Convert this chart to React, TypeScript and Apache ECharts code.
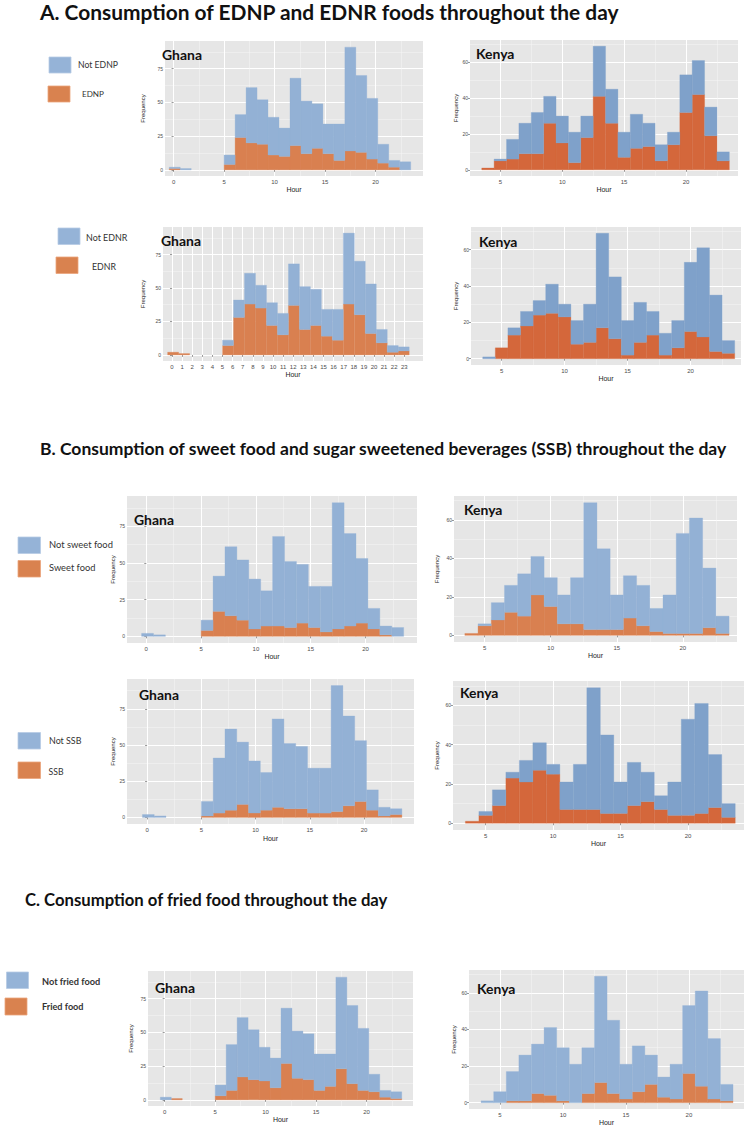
import React, { useEffect, useRef } from "react";
import * as echarts from "echarts";

// ---------- DATA ----------
// Ghana histogram bins (22 bins, ggplot binning)
const ghanaBinStart = -0.43;
const ghanaBinWidth = 1.087;
const ghanaBinIndex = [0, 1, 2, 3, 4, 5, 6, 7, 8, 9, 10, 11, 12, 13, 14, 15, 16, 17, 18, 19, 20, 21];
const ghanaTotal = [2, 1, 0, 0, 0, 11, 41, 61, 52, 39, 31, 68, 51, 49, 34, 34, 91, 70, 53, 19, 7, 6];
const ghanaEDNP = [1, 0, 0, 0, 0, 4, 24, 20, 19, 11, 10, 18, 12, 16, 12, 7, 14, 13, 8, 5, 2, 0];
const ghanaEDNR = [2, 1, 0, 0, 0, 7, 28, 38, 35, 22, 15, 37, 19, 22, 14, 11, 38, 30, 16, 9, 2, 3];
const ghanaSweet = [0, 0, 0, 0, 0, 4, 17, 14, 11, 5, 7, 7, 6, 9, 6, 3, 5, 7, 9, 5, 1, 0];
const ghanaSSB = [0, 0, 0, 0, 0, 1, 3, 5, 9, 3, 5, 7, 6, 6, 3, 3, 4, 8, 11, 5, 1, 2];
const ghanaFried = [0, 1, 0, 0, 0, 3, 7, 17, 15, 14, 9, 27, 16, 15, 7, 10, 23, 12, 7, 6, 2, 1];

// Kenya histogram bins (one per hour)
const kenyaHours = [4, 5, 6, 7, 8, 9, 10, 11, 12, 13, 14, 15, 16, 17, 18, 19, 20, 21, 22, 23];
const kenyaTotal = [1, 6, 17, 26, 32, 41, 30, 21, 30, 69, 45, 21, 31, 26, 14, 21, 53, 61, 35, 10];
const kenyaEDNP = [1, 5, 6, 9, 9, 26, 15, 4, 18, 41, 26, 7, 12, 13, 5, 14, 32, 42, 19, 5];
const kenyaEDNR = [0, 6, 13, 18, 24, 25, 23, 8, 9, 17, 11, 2, 9, 13, 2, 6, 15, 12, 4, 3];
const kenyaSweet = [1, 5, 8, 12, 10, 21, 15, 6, 6, 3, 3, 3, 9, 5, 2, 1, 1, 1, 4, 1];
const kenyaSSB = [1, 4, 9, 23, 21, 27, 25, 7, 7, 7, 5, 5, 9, 11, 7, 4, 4, 5, 8, 3];
const kenyaFried = [0, 0, 1, 1, 5, 4, 1, 0, 5, 11, 5, 2, 6, 10, 3, 2, 16, 9, 2, 1];

// Tick labels
const ghanaXTicks = [0, 5, 10, 15, 20];
const ghanaXMinor = [2.5, 7.5, 12.5, 17.5, 22.5];
const ghanaHourTicks = [0, 1, 2, 3, 4, 5, 6, 7, 8, 9, 10, 11, 12, 13, 14, 15, 16, 17, 18, 19, 20, 21, 22, 23];
const kenyaXTicks = [5, 10, 15, 20];
const kenyaXMinor = [7.5, 12.5, 17.5, 22.5];
const ghanaYTicks = [0, 25, 50, 75];
const ghanaYMinor = [12.5, 37.5, 62.5, 87.5];
const kenyaYTicks = [0, 20, 40, 60];
const kenyaYMinor = [10, 30, 50, 70];

const sectionTitles = [
  "A. Consumption of EDNP and EDNR foods throughout the day",
  "B. Consumption of sweet food and sugar sweetened beverages (SSB) throughout the day",
  "C. Consumption of fried food throughout the day",
];
const legendNot = ["Not EDNP", "Not EDNR", "Not sweet food", "Not SSB", "Not fried food"];
const legendYes = ["EDNP", "EDNR", "Sweet food", "SSB", "Fried food"];

// ---------- helpers ----------
type Bin = { start: number; end: number; o: number; t: number };
function ghanaBins(orange: number[]): Bin[] {
  return ghanaBinIndex.map((i) => ({
    start: ghanaBinStart + i * ghanaBinWidth,
    end: ghanaBinStart + (i + 1) * ghanaBinWidth,
    o: orange[i],
    t: ghanaTotal[i],
  }));
}
function kenyaBins(orange: number[]): Bin[] {
  return kenyaHours.map((h, i) => ({ start: h - 0.5, end: h + 0.5, o: orange[i], t: kenyaTotal[i] }));
}

const GB = "#93b1d5";
const GO = "#d98050";
const KB = "#7fa1ca";
const KO = "#d4673b";

const G = { y: [-4.55, 95.55], yTicks: ghanaYTicks, yMinor: ghanaYMinor };
const K = { y: [-3.45, 72.45], yTicks: kenyaYTicks, yMinor: kenyaYMinor };

const panels = [
  { name: "Ghana", bins: ghanaBins(ghanaEDNP), grid: [165, 41, 258, 135], x: [-0.85, 24.7], xTicks: ghanaXTicks, xMinor: ghanaXMinor, ...G, blue: GB, orange: GO, label: [162, 54], yGap: 19, xGap: 10 },
  { name: "Kenya", bins: kenyaBins(kenyaEDNP), grid: [470, 40, 268, 136], x: [2.55, 24.2], xTicks: kenyaXTicks, xMinor: kenyaXMinor, ...K, blue: KB, orange: KO, label: [476, 53], yGap: 11, xGap: 10 },
  { name: "Ghana", bins: ghanaBins(ghanaEDNR), grid: [163, 227, 260, 134], x: [-0.89, 24.85], xTicks: ghanaHourTicks, xMinor: [], ...G, blue: GB, orange: GO, label: [161, 240], yGap: 17, xGap: 10 },
  { name: "Kenya", bins: kenyaBins(kenyaEDNR), grid: [471, 227, 270, 138], x: [2.57, 24.0], xTicks: kenyaXTicks, xMinor: kenyaXMinor, ...K, blue: KB, orange: KO, label: [479, 241], yGap: 12, xGap: 10 },
  { name: "Ghana", bins: ghanaBins(ghanaSweet), grid: [127, 496, 290, 147], x: [-1.76, 24.7], xTicks: ghanaXTicks, xMinor: ghanaXMinor, ...G, blue: GB, orange: GO, label: [134, 519], yGap: 10, xGap: 10 },
  { name: "Kenya", bins: kenyaBins(kenyaSweet), grid: [454, 496, 283, 146], x: [2.68, 24.1], xTicks: kenyaXTicks, xMinor: kenyaXMinor, ...K, blue: GB, orange: GO, label: [464, 509], yGap: 14, xGap: 10 },
  { name: "Ghana", bins: ghanaBins(ghanaSSB), grid: [127, 679, 287, 145], x: [-1.85, 24.6], xTicks: ghanaXTicks, xMinor: ghanaXMinor, ...G, blue: GB, orange: GO, label: [139, 694], yGap: 9, xGap: 11 },
  { name: "Kenya", bins: kenyaBins(kenyaSSB), grid: [453, 681, 291, 149], x: [2.58, 24.15], xTicks: kenyaXTicks, xMinor: kenyaXMinor, ...K, blue: KB, orange: KO, label: [460, 692], yGap: 13, xGap: 10 },
  { name: "Ghana", bins: ghanaBins(ghanaFried), grid: [148, 971, 265, 135], x: [-1.65, 24.6], xTicks: ghanaXTicks, xMinor: ghanaXMinor, ...G, blue: GB, orange: GO, label: [155, 987], yGap: 14, xGap: 8 },
  { name: "Kenya", bins: kenyaBins(kenyaFried), grid: [469, 970, 275, 139], x: [2.54, 24.37], xTicks: kenyaXTicks, xMinor: kenyaXMinor, ...K, blue: GB, orange: GO, label: [477, 988], yGap: 12, xGap: 8 },
];

let measureCtx: CanvasRenderingContext2D | null = null;
function fitSize(text: string, weight: string, family: string, width: number): number {
  if (!measureCtx) measureCtx = document.createElement("canvas").getContext("2d");
  if (!measureCtx) return 12;
  measureCtx.font = `${weight} 100px ${family}`;
  const w = measureCtx.measureText(text).width;
  return (100 * width) / w;
}

function buildOption() {
  const grid: any[] = [];
  const xAxis: any[] = [];
  const yAxis: any[] = [];
  const series: any[] = [];
  const graphic: any[] = [];
  const tickFont = "Liberation Sans";

  const countrySize = fitSize("Ghana", "bold", "Lato", 40);

  panels.forEach((p, i) => {
    grid.push({
      left: p.grid[0], top: p.grid[1], width: p.grid[2], height: p.grid[3],
      show: true, backgroundColor: "#e6e6e6", borderWidth: 0, containLabel: false,
    });
    const xMain = xAxis.length;
    xAxis.push({
      type: "value", gridIndex: i, min: p.x[0], max: p.x[1], position: "bottom",
      axisLine: { show: false },
      axisTick: { show: true, length: 2, lineStyle: { color: "#555", width: 0.6 }, customValues: p.xTicks },
      axisLabel: { customValues: p.xTicks, fontSize: 6, color: "#4d4d4d", margin: 3, fontFamily: tickFont },
      splitLine: { show: true, lineStyle: { color: "#ffffff", width: 1 } },
      name: "Hour", nameLocation: "middle", nameGap: p.xGap,
      nameTextStyle: { fontSize: 7, color: "#222", fontFamily: tickFont },
    });
    xAxis.push({
      type: "value", gridIndex: i, min: p.x[0], max: p.x[1], position: "top",
      axisLine: { show: false },
      axisTick: { show: false, customValues: p.xMinor.length ? p.xMinor : [p.x[0]] },
      axisLabel: { show: false, customValues: p.xMinor.length ? p.xMinor : [p.x[0]] },
      splitLine: { show: p.xMinor.length > 0, lineStyle: { color: "#f6f6f6", width: 0.5 } },
    });
    const yMain = yAxis.length;
    yAxis.push({
      type: "value", gridIndex: i, min: p.y[0], max: p.y[1], position: "left",
      axisLine: { show: false },
      axisTick: { show: true, length: 2, lineStyle: { color: "#555", width: 0.6 }, customValues: p.yTicks },
      axisLabel: { customValues: p.yTicks, fontSize: 5, color: "#4d4d4d", margin: 2, fontFamily: tickFont },
      splitLine: { show: true, lineStyle: { color: "#ffffff", width: 1 } },
      name: "Frequency", nameLocation: "middle", nameGap: p.yGap, nameRotate: 90,
      nameTextStyle: { fontSize: 6, color: "#222", fontFamily: tickFont },
    });
    yAxis.push({
      type: "value", gridIndex: i, min: p.y[0], max: p.y[1], position: "right",
      axisLine: { show: false },
      axisTick: { show: false, customValues: p.yMinor },
      axisLabel: { show: false, customValues: p.yMinor },
      splitLine: { show: true, lineStyle: { color: "#f6f6f6", width: 0.5 } },
    });

    const mk = (color: string, lowKey: (b: Bin) => number, highKey: (b: Bin) => number) => ({
      type: "custom",
      xAxisIndex: xMain,
      yAxisIndex: yMain,
      clip: true,
      silent: true,
      encode: { x: [0, 1], y: [2, 3] },
      data: p.bins.map((b) => [b.start, b.end, lowKey(b), highKey(b)]),
      renderItem: (params: any, api: any) => {
        const x0 = api.value(0), x1 = api.value(1), y0 = api.value(2), y1 = api.value(3);
        if (!(y1 > y0)) return null;
        const a = api.coord([x0, y0]);
        const b = api.coord([x1, y1]);
        return {
          type: "rect",
          shape: { x: a[0], y: b[1], width: b[0] - a[0], height: a[1] - b[1] },
          style: { fill: color, stroke: color, lineWidth: 0.3 },
        };
      },
    });
    series.push(mk(p.orange, () => 0, (b) => b.o));
    series.push(mk(p.blue, (b) => b.o, (b) => b.t));

    graphic.push({
      type: "text", x: p.label[0], y: p.label[1], z: 100,
      style: { text: p.name, fontFamily: "Lato", fontWeight: "bold", fontSize: countrySize, fill: "#111", verticalAlign: "middle", align: "left" },
    });
  });

  // section titles
  const titleSpecs = [
    { x: 40, y: 11, w: 580 },
    { x: 40, y: 448, w: 687 },
    { x: 25, y: 900, w: 363 },
  ];
  sectionTitles.forEach((t, i) => {
    const s = titleSpecs[i];
    graphic.push({
      type: "text", x: s.x, y: s.y,
      style: { text: t, fontFamily: "Lato", fontWeight: "bold", fontSize: fitSize(t, "bold", "Lato", s.w), fill: "#111", verticalAlign: "middle", align: "left" },
    });
  });

  // legends
  const legendSpecs = [
    { b: [49, 57, 22, 16], o: [48, 86, 22, 16], tn: [78, 64.5, 40], ty: [82, 94.3, 22], bold: false },
    { b: [58, 228, 22, 16.5], o: [56, 257, 22, 16.5], tn: [86, 237.3, 41.5], ty: [92, 266, 24], bold: false },
    { b: [18, 537, 22.5, 16.5], o: [18, 560.5, 22.5, 16.5], tn: [49, 544.3, 64], ty: [49, 567.3, 46.5], bold: false },
    { b: [18, 732.5, 22.5, 16.5], o: [18, 762, 22.5, 16.5], tn: [49, 740.7, 32.5], ty: [48.5, 771.7, 15], bold: false },
    { b: [6.5, 972, 22, 16.5], o: [5, 998, 22, 17], tn: [42, 981.7, 58.3], ty: [42, 1006.7, 41.6], bold: true },
  ];
  legendSpecs.forEach((L, i) => {
    graphic.push({ type: "rect", shape: { x: L.b[0], y: L.b[1], width: L.b[2], height: L.b[3] }, style: { fill: "#95b3d7", stroke: "#b8cce4", lineWidth: 0.8 } });
    graphic.push({ type: "rect", shape: { x: L.o[0], y: L.o[1], width: L.o[2], height: L.o[3] }, style: { fill: "#d9824f", stroke: "#eba47c", lineWidth: 0.8 } });
    const w = L.bold ? "bold" : "normal";
    graphic.push({
      type: "text", x: L.tn[0], y: L.tn[1],
      style: { text: legendNot[i], fontFamily: "Lato", fontWeight: w, fontSize: fitSize(legendNot[i], w, "Lato", L.tn[2]), fill: "#333", verticalAlign: "middle", align: "left" },
    });
    graphic.push({
      type: "text", x: L.ty[0], y: L.ty[1],
      style: { text: legendYes[i], fontFamily: "Lato", fontWeight: w, fontSize: fitSize(legendYes[i], w, "Lato", L.ty[2]), fill: "#333", verticalAlign: "middle", align: "left" },
    });
  });

  return {
    animation: false,
    backgroundColor: "#ffffff",
    grid, xAxis, yAxis, series, graphic,
  };
}

export default function App() {
  const ref = useRef<HTMLDivElement>(null);
  useEffect(() => {
    document.body.style.margin = "0";
    if (!ref.current) return;
    const chart = echarts.init(ref.current, null, { renderer: "svg" });
    chart.setOption(buildOption() as any);
    return () => chart.dispose();
  }, []);
  return <div ref={ref} style={{ width: 750, height: 1132 }} />;
}
